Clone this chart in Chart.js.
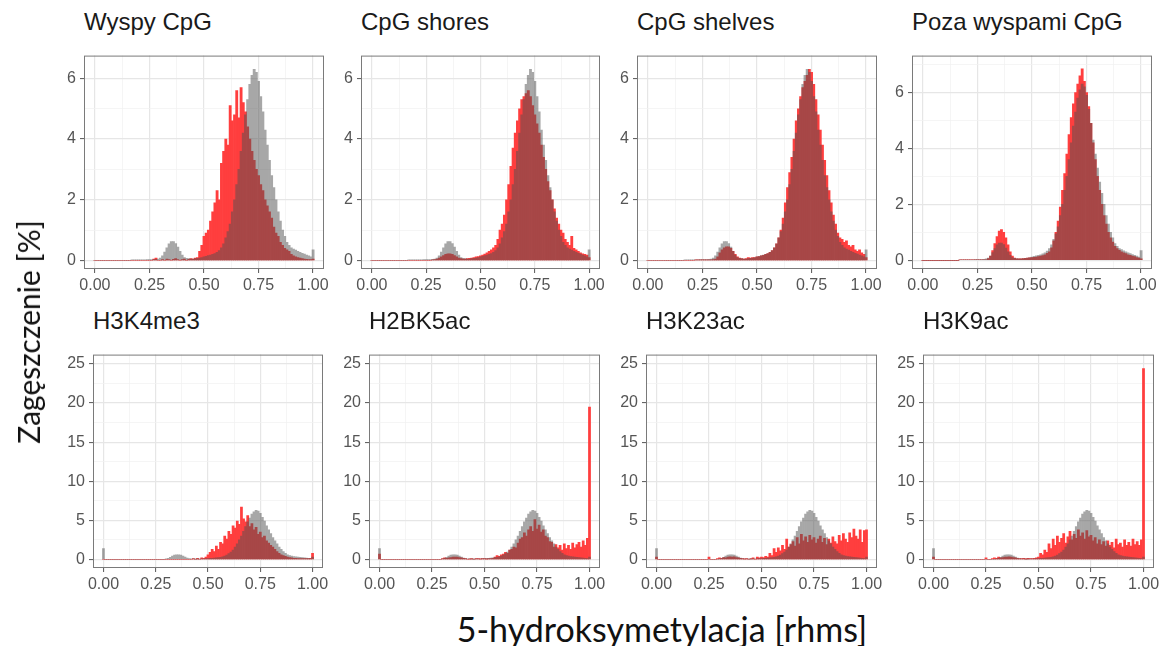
<!DOCTYPE html>
<html>
<head>
<meta charset="utf-8">
<script src="https://cdn.jsdelivr.net/npm/chart.js@4"></script>
<style>
  body { margin: 0; background: #fff; }
  #page { position: relative; width: 1162px; height: 646px; overflow: hidden; background: #fff; }
  #page canvas { position: absolute; }
  #page canvas.overlay { opacity: 0.5; }
  .ptitle { position: absolute; font: 24px "Liberation Sans", Arial, sans-serif; color: #1a1a1a; line-height: 24px; white-space: nowrap; }
  .axtitle { position: absolute; font-family: Lato, "Open Sans", sans-serif; color: #111; white-space: nowrap; }
</style>
</head>
<body>
<div id="page"></div>
<script>
// histogram bins, centres 0.00 ... 1.00 (width 0.01)
const binCentres = Array.from({ length: 101 }, (_, i) => i / 100);

const panelTitles = ['Wyspy CpG', 'CpG shores', 'CpG shelves', 'Poza wyspami CpG',
                     'H3K4me3', 'H2BK5ac', 'H3K23ac', 'H3K9ac'];

const xTicks = [0, 0.25, 0.5, 0.75, 1];
const yTicksTop = [0, 2, 4, 6];
const yTicksBottom = [0, 5, 10, 15, 20, 25];

// grey background distribution, top row
const greyRegions = [
  0, 0, 0, 0, 0, 0, 0, 0, 0, 0,
  0, 0, 0, 0, 0, 0, 0, 0.02, 0.02, 0.02,
  0.02, 0.02, 0.02, 0.02, 0.03, 0.03, 0.03, 0.03, 0.04, 0.05,
  0.08, 0.15, 0.28, 0.42, 0.55, 0.62, 0.62, 0.56, 0.44, 0.3,
  0.18, 0.1, 0.07, 0.06, 0.05, 0.05, 0.06, 0.07, 0.08, 0.1,
  0.12, 0.14, 0.16, 0.18, 0.2, 0.23, 0.27, 0.33, 0.42, 0.55,
  0.75, 0.95, 1.2, 1.6, 2.0, 2.5, 3.0, 3.6, 4.2, 4.8,
  5.3, 5.8, 6.1, 6.3, 6.2, 5.9, 5.4, 4.9, 4.3, 3.8,
  3.3, 2.8, 2.4, 2.0, 1.6, 1.3, 1.0, 0.8, 0.6, 0.5,
  0.42, 0.38, 0.34, 0.3, 0.27, 0.24, 0.21, 0.18, 0.15, 0.12,
  0.35
];

// grey background distribution, bottom row
const greyMarks = [
  1.4, 0, 0, 0, 0, 0, 0, 0, 0, 0,
  0, 0, 0, 0, 0, 0, 0, 0, 0, 0,
  0, 0, 0, 0, 0, 0, 0, 0, 0, 0,
  0.08, 0.15, 0.28, 0.42, 0.55, 0.6, 0.6, 0.55, 0.44, 0.3,
  0.18, 0.1, 0.07, 0.06, 0.05, 0.05, 0.06, 0.07, 0.08, 0.1,
  0.12, 0.14, 0.16, 0.18, 0.2, 0.23, 0.27, 0.33, 0.42, 0.55,
  0.75, 0.95, 1.2, 1.6, 2.0, 2.5, 3.0, 3.6, 4.2, 4.8,
  5.3, 5.8, 6.1, 6.3, 6.2, 5.9, 5.4, 4.9, 4.3, 3.8,
  3.3, 2.8, 2.4, 2.0, 1.6, 1.3, 1.0, 0.8, 0.6, 0.5,
  0.42, 0.38, 0.34, 0.3, 0.27, 0.24, 0.21, 0.18, 0.15, 0.12,
  0.3
];

const redIslands = [
  0, 0, 0, 0, 0, 0, 0, 0, 0, 0,
  0, 0, 0, 0, 0, 0, 0, 0, 0, 0,
  0, 0, 0, 0, 0, 0, 0, 0.05, 0.08, 0,
  0, 0.03, 0, 0.05, 0.03, 0, 0.04, 0.06, 0.03, 0,
  0.03, 0.05, 0, 0.04, 0.06, 0.05, 0.08, 0.1, 0.3, 0.5,
  0.8, 0.9, 1.0, 1.3, 1.6, 1.9, 2.3, 2.0, 3.2, 3.6,
  4.0, 3.8, 5.1, 4.6, 4.8, 5.6, 4.7, 5.7, 5.2, 4.9,
  4.4, 4.0, 3.6, 3.3, 3.0, 2.8, 2.5, 2.3, 2.0, 1.8,
  1.6, 1.4, 1.1, 0.9, 0.8, 0.6, 0.5, 0.4, 0.35, 0.3,
  0.2, 0.15, 0.12, 0.1, 0.08, 0.06, 0.05, 0.04, 0.03, 0.03,
  0.05
];

const redShores = [
  0, 0, 0, 0, 0, 0, 0, 0, 0, 0,
  0, 0, 0, 0, 0, 0, 0, 0, 0, 0,
  0, 0, 0, 0, 0, 0, 0, 0, 0.02, 0.03,
  0.05, 0.08, 0.12, 0.16, 0.2, 0.22, 0.22, 0.2, 0.16, 0.12,
  0.08, 0.06, 0.05, 0.05, 0.06, 0.07, 0.08, 0.1, 0.12, 0.13,
  0.15, 0.18, 0.21, 0.25, 0.3, 0.35, 0.42, 0.5, 0.7, 1.0,
  1.2, 1.5, 2.0, 2.5, 3.1, 3.7, 4.2, 4.6, 5.0, 5.3,
  5.4, 5.5, 5.6, 5.4, 5.1, 4.8, 4.5, 4.2, 3.8, 3.4,
  3.0, 2.6, 2.3, 2.0, 1.7, 1.4, 1.2, 1.0, 0.9, 0.7,
  0.6, 0.5, 0.8, 0.4, 0.35, 0.3, 0.25, 0.22, 0.2, 0.18,
  0.1
];

const redShelves = [
  0, 0, 0, 0, 0, 0, 0, 0, 0, 0,
  0, 0, 0, 0, 0, 0, 0, 0, 0, 0,
  0, 0, 0.02, 0.02, 0.02, 0.02, 0.02, 0.02, 0.02, 0.02,
  0.03, 0.05, 0.12, 0.25, 0.35, 0.42, 0.45, 0.45, 0.4, 0.3,
  0.2, 0.12, 0.08, 0.06, 0.05, 0.06, 0.1, 0.08, 0.1, 0.1,
  0.12, 0.13, 0.15, 0.17, 0.2, 0.23, 0.27, 0.33, 0.42, 0.55,
  0.75, 1.0, 1.4, 1.9, 2.4, 2.9, 3.4, 4.0, 4.6, 5.0,
  5.4, 5.7, 5.9, 6.1, 6.3, 6.2, 5.8, 5.3, 4.8, 4.3,
  3.8, 3.3, 2.8, 2.3, 1.9, 1.5, 1.2, 0.9, 0.75, 0.7,
  0.6, 0.65, 0.5, 0.45, 0.5, 0.35, 0.3, 0.35, 0.25, 0.2,
  0.1
];

const redOpenSea = [
  0, 0, 0, 0, 0, 0, 0, 0, 0, 0,
  0, 0, 0, 0, 0, 0, 0, 0.02, 0.02, 0.02,
  0.02, 0.02, 0.02, 0.02, 0.02, 0.02, 0.02, 0.02, 0.02, 0.02,
  0.06, 0.15, 0.35, 0.6, 0.85, 1.05, 1.1, 1.0, 0.8, 0.55,
  0.3, 0.15, 0.08, 0.05, 0.05, 0.05, 0.06, 0.07, 0.08, 0.09,
  0.1, 0.11, 0.12, 0.13, 0.15, 0.17, 0.2, 0.25, 0.3, 0.45,
  0.7, 1.0, 1.4, 1.9, 2.5, 3.1, 3.8, 4.5, 5.1, 5.6,
  6.0, 6.3, 6.6, 6.85, 6.4, 6.0, 5.5, 4.9, 4.2, 3.6,
  3.0, 2.5, 2.0, 1.6, 1.3, 1.0, 0.8, 0.65, 0.5, 0.42,
  0.36, 0.3, 0.27, 0.24, 0.2, 0.18, 0.15, 0.13, 0.1, 0.08,
  0.05
];

const redH3K4me3 = [
  0, 0, 0, 0, 0, 0, 0, 0, 0, 0,
  0, 0, 0, 0, 0, 0, 0, 0, 0, 0,
  0, 0, 0, 0, 0, 0, 0, 0, 0, 0,
  0, 0, 0, 0, 0, 0, 0, 0, 0, 0,
  0, 0, 0, 0.1, 0, 0.15, 0, 0.2, 0.15, 0.3,
  0.6, 0.9, 1.3, 1.0, 1.7, 1.3, 2.2, 2.0, 3.0, 2.6,
  3.6, 3.2, 4.3, 4.0, 4.9, 4.5, 6.7, 5.2, 4.8, 5.6,
  4.2, 4.6, 3.8, 4.1, 3.2, 3.5, 2.8, 3.0, 2.4, 2.1,
  1.8, 1.6, 1.3, 1.0, 0.8, 0.6, 0.5, 0.4, 0.3, 0.25,
  0.2, 0.15, 0.15, 0.1, 0.1, 0.1, 0.1, 0.1, 0.1, 0.15,
  0.8
];

const redH2BK5ac = [
  0.7, 0, 0, 0, 0, 0, 0, 0, 0, 0,
  0, 0, 0, 0, 0, 0, 0, 0, 0, 0,
  0, 0, 0, 0, 0, 0, 0, 0, 0, 0,
  0.1, 0.2, 0.15, 0.2, 0.25, 0.3, 0.3, 0.3, 0.25, 0.2,
  0.15, 0.1, 0, 0.05, 0.1, 0, 0.1, 0.1, 0.05, 0.1,
  0.1, 0.05, 0.1, 0.1, 0.15, 0.3, 0.5, 0.4, 0.6, 0.7,
  0.9, 0.8, 1.2, 1.3, 1.6, 1.5, 2.1, 2.6, 2.8, 3.4,
  3.0, 3.8, 4.2, 3.6, 5.1, 3.9, 4.4, 3.5, 3.8, 3.0,
  2.8, 2.3, 2.2, 1.6, 1.9, 1.5, 1.8, 1.2, 2.0, 1.4,
  1.8, 1.3, 2.1, 1.5, 1.9, 2.2, 1.6, 2.4, 1.8, 2.7,
  19.5
];

const redH3K23ac = [
  0.3, 0, 0, 0, 0, 0, 0, 0, 0, 0,
  0, 0, 0, 0, 0, 0, 0, 0, 0, 0,
  0, 0, 0, 0, 0, 0.3, 0, 0, 0, 0.1,
  0.2, 0.15, 0.25, 0.2, 0.3, 0.35, 0.3, 0.35, 0.25, 0.2,
  0.15, 0.1, 0.05, 0.1, 0, 0.1, 0.2, 0, 0.3, 0.2,
  0.3, 0.25, 0.4, 0.3, 0.8, 0.5, 1.4, 0.9, 1.5, 1.1,
  1.8, 1.3, 2.6, 1.6, 1.9, 2.3, 1.7, 2.8, 2.0, 3.2,
  2.4, 2.9, 2.2, 3.1, 2.5, 2.8, 2.1, 2.6, 3.0, 2.2,
  2.7, 1.9, 2.6, 2.1, 2.9, 2.3, 2.0, 3.1, 2.4, 3.3,
  2.6, 2.2, 3.4, 2.8, 3.9, 3.0, 2.6, 3.8, 2.2, 3.7,
  3.8
];

const redH3K9ac = [
  0.3, 0, 0, 0, 0, 0, 0, 0, 0, 0,
  0, 0, 0, 0, 0, 0, 0, 0, 0, 0,
  0, 0, 0, 0, 0, 0.2, 0, 0, 0.1, 0.2,
  0.15, 0.3, 0.2, 0.25, 0.3, 0.3, 0.35, 0.3, 0.25, 0.2,
  0.15, 0.1, 0.1, 0.15, 0.05, 0.15, 0.1, 0.1, 0.15, 0.2,
  0.3, 0.8, 0.6, 1.2, 0.9, 2.0, 1.4, 2.6, 1.8, 3.0,
  2.2, 2.7, 3.3, 2.1, 2.9, 3.6, 2.5, 3.2, 2.7, 3.8,
  3.0, 3.4, 2.6, 3.7, 2.9, 3.1, 2.4, 2.8, 2.0, 2.5,
  1.9, 2.3, 1.7, 2.4, 1.8, 2.2, 1.5, 2.6, 1.9, 2.1,
  1.6, 2.5, 1.8, 2.2, 1.7, 2.6, 1.9, 2.3, 1.8, 2.5,
  24.4
];

const greySeries = [greyRegions, greyRegions, greyRegions, greyRegions,
                    greyMarks, greyMarks, greyMarks, greyMarks];
const redSeries = [redIslands, redShores, redShelves, redOpenSea,
                   redH3K4me3, redH2BK5ac, redH3K23ac, redH3K9ac];
// y limits of each panel (ggplot free scales incl. expansion)
const yLimits = [[-0.28, 6.75], [-0.28, 6.75], [-0.28, 6.75], [-0.31, 7.32],
                 [-1.09, 26.2], [-1.09, 26.2], [-1.09, 26.2], [-1.09, 26.2]];

// panel frames on the page: [left, right, top]
const frames = [
  [84, 324, 44], [361, 600, 44], [637, 877, 44], [912, 1152, 44],
  [93, 323, 343], [369, 600, 343], [646, 877, 343], [923, 1154, 343]
];
const FRAME_H = 225, AXIS_W = 40, AXIS_H = 30, PAD_TOP = 2, PAD_RIGHT = 10;
const NONE = 'rgba(0,0,0,0)';

Chart.defaults.font.family = '"Liberation Sans", Arial, sans-serif';

const panelFrame = {
  id: 'panelFrame',
  afterDraw(chart) {
    const { ctx, chartArea: a } = chart;
    ctx.save();
    ctx.strokeStyle = '#7a7a7a';
    ctx.lineWidth = 1;
    ctx.strokeRect(a.left + 0.5, a.top + 0.5, a.right - a.left - 1, a.bottom - a.top - 1);
    ctx.restore();
  }
};

const page = document.getElementById('page');
const near = (v, list) => list.some(t => Math.abs(t - v) < 1e-6);
const toPoints = ys => ys.map((y, i) => ({ x: binCentres[i], y }));

// options shared by the base chart (axes + red) and the grey overlay chart,
// so both get the very same chart area; the overlay keeps its axes invisible
function panelOptions(p, showAxes) {
  const topRow = p < 4;
  const yMajor = topRow ? yTicksTop : yTicksBottom;
  const tickInk = showAxes ? '#555' : NONE;
  const axis = (major) => ({
    tickLength: 4,
    color: ctx => !showAxes ? NONE : (near(ctx.tick.value, major) ? '#e6e6e6' : '#f1f1f1'),
    lineWidth: ctx => near(ctx.tick.value, major) ? 1.2 : 0.7,
    tickColor: ctx => showAxes && near(ctx.tick.value, major) ? '#555' : NONE,
    tickWidth: 1
  });
  return {
    responsive: false,
    animation: false,
    events: [],
    layout: { padding: { top: PAD_TOP, right: PAD_RIGHT, left: 0, bottom: 0 } },
    plugins: { legend: { display: false }, tooltip: { enabled: false } },
    datasets: { bar: { grouped: false, barPercentage: 1, categoryPercentage: 1, borderWidth: 0 } },
    scales: {
      x: {
        type: 'linear', min: -0.05, max: 1.05, offset: false,
        ticks: {
          stepSize: 0.125, includeBounds: false, autoSkip: false, maxRotation: 0,
          padding: 3, color: tickInk, font: { size: 16 },
          callback: v => near(v, xTicks) ? v.toFixed(2) : ''
        },
        grid: Object.assign({ offset: false }, axis(xTicks)),
        border: { display: false },
        afterFit: s => { s.height = AXIS_H; }
      },
      y: {
        min: yLimits[p][0], max: yLimits[p][1],
        ticks: {
          stepSize: topRow ? 1 : 2.5, includeBounds: false, autoSkip: false,
          padding: 4, color: tickInk, font: { size: 16 },
          callback: v => near(v, yMajor) ? String(v) : ''
        },
        grid: axis(yMajor),
        border: { display: false },
        afterFit: s => { s.width = AXIS_W; }
      }
    }
  };
}

function addCanvas(p, cls) {
  const [fl, fr, ft] = frames[p];
  const canvas = document.createElement('canvas');
  canvas.width = AXIS_W + (fr - fl) + PAD_RIGHT;
  canvas.height = PAD_TOP + FRAME_H + AXIS_H;
  canvas.style.left = (fl - AXIS_W) + 'px';
  canvas.style.top = (ft - PAD_TOP) + 'px';
  if (cls) canvas.className = cls;
  page.appendChild(canvas);
  return canvas;
}

panelTitles.forEach((title, p) => {
  const [fl, , ft] = frames[p];

  const t = document.createElement('div');
  t.className = 'ptitle';
  t.textContent = title;
  t.style.left = fl + 'px';
  t.style.top = (ft - 34) + 'px';
  page.appendChild(t);

  // red histogram with axes, grid and panel border
  new Chart(addCanvas(p), {
    type: 'bar',
    data: { datasets: [{ label: title, data: toPoints(redSeries[p]), backgroundColor: 'rgb(255,62,62)' }] },
    options: panelOptions(p, true),
    plugins: [panelFrame]
  });

  // grey histogram, drawn opaque on its own canvas shown at 50% opacity
  new Chart(addCanvas(p, 'overlay'), {
    type: 'bar',
    data: { datasets: [{ label: 'tło', data: toPoints(greySeries[p]), backgroundColor: 'rgb(80,80,80)' }] },
    options: panelOptions(p, false)
  });
});

// shared axis titles
const yTitle = document.createElement('div');
yTitle.className = 'axtitle';
yTitle.textContent = 'Zagęszczenie [%]';
yTitle.style.fontSize = '30px';
yTitle.style.left = '28px';
yTitle.style.top = '332px';
yTitle.style.transform = 'translate(-50%, -50%) rotate(-90deg)';
page.appendChild(yTitle);

const xTitle = document.createElement('div');
xTitle.className = 'axtitle';
xTitle.textContent = '5-hydroksymetylacja [rhms]';
xTitle.style.fontSize = '34px';
xTitle.style.left = '662px';
xTitle.style.top = '628px';
xTitle.style.transform = 'translate(-50%, -50%)';
page.appendChild(xTitle);
</script>
</body>
</html>
